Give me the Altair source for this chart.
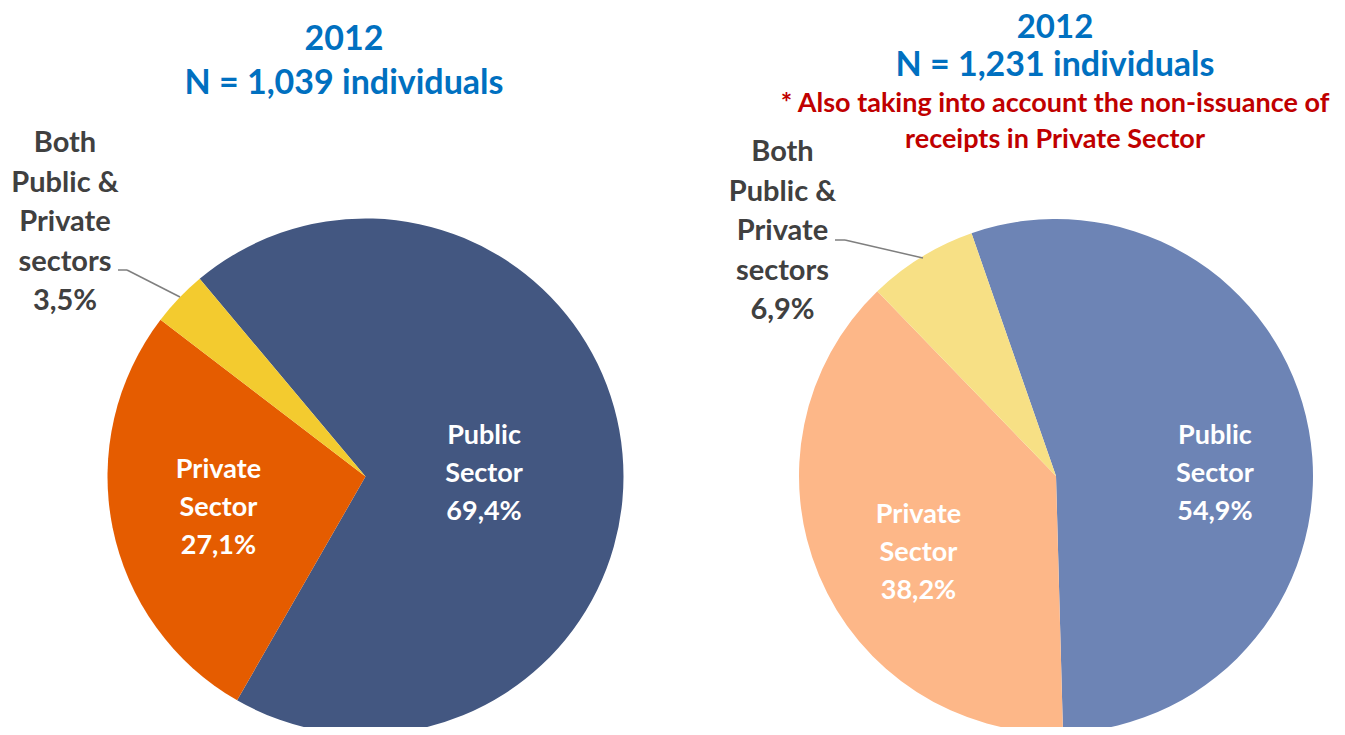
import math
import altair as alt
import pandas as pd

# ---------------- data ----------------
sectors = ["Public Sector", "Private Sector", "Both Public & Private sectors"]
left_values = [69.4, 27.1, 3.5]
right_values = [54.9, 38.2, 6.9]
left_labels = ["Public\nSector\n69,4%", "Private\nSector\n27,1%", "Both\nPublic &\nPrivate\nsectors\n3,5%"]
right_labels = ["Public\nSector\n54,9%", "Private\nSector\n38,2%", "Both\nPublic &\nPrivate\nsectors\n6,9%"]
left_title = ["2012", "N = 1,039 individuals"]
right_title = ["2012", "N = 1,231 individuals"]
right_note = ["* Also taking into account the non-issuance of", "receipts in Private Sector"]

# ---------------- style ----------------
left_colors = ["#435781", "#E55C00", "#F3CB2F"]
right_colors = ["#6D84B5", "#FDB788", "#F7E085"]
FONT = "Lato"
BLUE = "#0070C0"
RED = "#C00000"
GREY = "#404040"
W, H = 1329, 719


def frame(values, labels):
    return pd.DataFrame({"sector": sectors, "value": values, "label": labels,
                         "ord": list(range(len(sectors)))})


def pie(values, labels, colors, cx, cy, r, start_deg, inner_specs, outer_spec, leader):
    df = frame(values, labels)
    start = math.radians(start_deg)
    theta = alt.Theta("value:Q", stack=True,
                      scale=alt.Scale(range=[start, start + 2 * math.pi]))
    base = alt.Chart(df).encode(theta=theta, order=alt.Order("ord:Q"))
    layers = [
        base.mark_arc(outerRadius=r).encode(
            color=alt.Color("sector:N", scale=alt.Scale(domain=sectors, range=colors), legend=None),
            x=alt.value(cx), y=alt.value(cy),
        )
    ]
    for sec, rad, dy in inner_specs:
        layers.append(
            base.mark_text(radius=rad, dy=dy, font=FONT, fontWeight="bold", fontSize=27,
                           color="white", lineBreak="\n", lineHeight=38,
                           align="center", baseline="middle").encode(
                text=alt.condition(alt.datum.sector == sec, "label:N", alt.value("")),
                x=alt.value(cx), y=alt.value(cy),
            )
        )
    ox, oy = outer_spec
    layers.append(
        alt.Chart(df).transform_filter(alt.datum.sector == sectors[2]).mark_text(
            font=FONT, fontWeight="bold", fontSize=29, color=GREY, lineBreak="\n",
            lineHeight=39.5, align="center", baseline="middle").encode(
            text="label:N", x=alt.value(ox), y=alt.value(oy))
    )
    dummy = pd.DataFrame({"k": [0]})
    (x0, y0), (x1, y1), (x2, y2) = leader
    for (a, b), (c, d) in [((x0, y0), (x1, y1)), ((x1, y1), (x2, y2))]:
        layers.append(
            alt.Chart(dummy).mark_rule(color="#7F7F7F", strokeWidth=1.5).encode(
                x=alt.value(a), y=alt.value(b), x2=alt.value(c), y2=alt.value(d))
        )
    return layers


def line_text(text, cx, cy, size, color):
    return alt.Chart(pd.DataFrame({"t": [text]})).mark_text(
        font=FONT, fontWeight="bold", fontSize=size, color=color,
        align="center", baseline="middle").encode(
        text="t:N", x=alt.value(cx), y=alt.value(cy))


left_layers = pie(left_values, left_labels, left_colors, 357.5, 468.5, 258, 320.0,
                  [("Public Sector", 119, -30), ("Private Sector", 150, -36)],
                  (57, 135), [(110, 262), (119, 262), (172, 289)])
right_layers = pie(right_values, right_labels, right_colors, 1048, 468, 257, 340.8,
                   [("Public Sector", 161.6, -11), ("Private Sector", 149.2, -19)],
                   (774.5, 144), [(827, 232), (837, 232), (915, 250)])

titles = [
    line_text(left_title[0], 336, 32, 34, BLUE),
    line_text(left_title[1], 336, 76, 34, BLUE),
    line_text(right_title[0], 1047, 20, 33, BLUE),
    line_text(right_title[1], 1047, 58, 34, BLUE),
    line_text(right_note[0], 1047, 96, 27, RED),
    line_text(right_note[1], 1047, 132, 27, RED),
]

chart = alt.layer(*left_layers, *right_layers, *titles).resolve_scale(
    theta="independent", color="independent"
).properties(
    width=W, height=H, padding=0,
    autosize=alt.AutoSizeParams(type="none"),
).configure_view(stroke=None)

chart.save("out.html", embed_options={"renderer": "svg", "actions": False})
